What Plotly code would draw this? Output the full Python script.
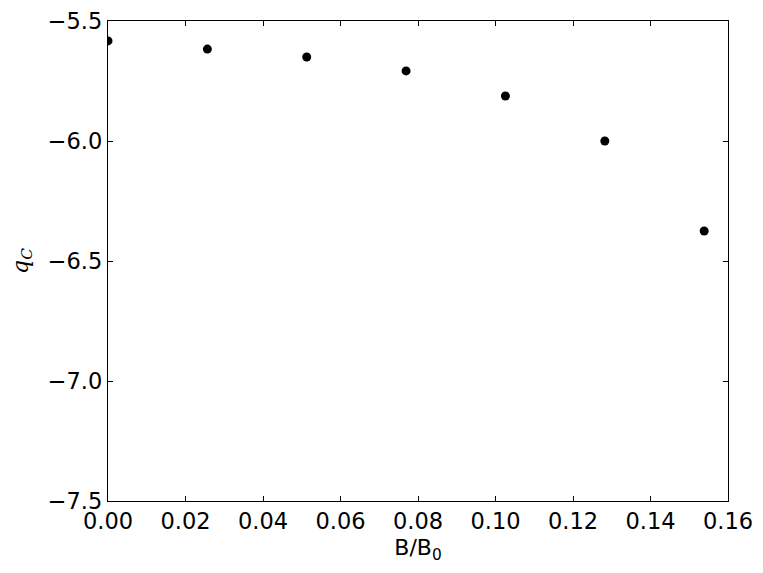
import plotly.graph_objects as go

b_ratio = [0.0, 0.02564, 0.05128, 0.07692, 0.10256, 0.12821, 0.15385]
q_c = [-5.583, -5.617, -5.650, -5.708, -5.8125, -6.000, -6.375]

x_ticks = [0.00, 0.02, 0.04, 0.06, 0.08, 0.10, 0.12, 0.14, 0.16]
y_ticks = [-7.5, -7.0, -6.5, -6.0, -5.5]

fig = go.Figure()
fig.add_trace(go.Scatter(
    x=b_ratio, y=q_c, mode="markers",
    marker=dict(color="black", size=9, line=dict(width=0)),
    cliponaxis=True, showlegend=False,
))

axis_common = dict(
    showline=True, linecolor="black", linewidth=1.3, mirror="ticks",
    ticks="inside", ticklen=5, tickwidth=1, tickcolor="black",
    showgrid=False, zeroline=False, automargin=False,
    tickfont=dict(family="DejaVu Sans", size=22.5, color="black"),
)

fig.update_xaxes(
    range=[0, 0.16], tickvals=x_ticks, tickformat=".2f",
    title=dict(text="B/B<sub>0</sub>", font=dict(family="DejaVu Sans", size=22, color="black"), standoff=6),
    **axis_common,
)
fig.update_yaxes(
    range=[-7.5, -5.5], tickvals=y_ticks, tickformat=".1f",
    title=dict(text="<i>q</i><sub><i>C</i></sub>", font=dict(family="DejaVu Serif", size=22, color="black"), standoff=13),
    **axis_common,
)

fig.update_layout(
    width=763, height=573,
    margin=dict(l=108, r=35, t=21, b=72),
    paper_bgcolor="white", plot_bgcolor="white",
)

fig.write_html(
    "out.html",
    config={"displayModeBar": False},
    post_script="document.body.style.margin='0';document.body.style.overflow='hidden';",
)
